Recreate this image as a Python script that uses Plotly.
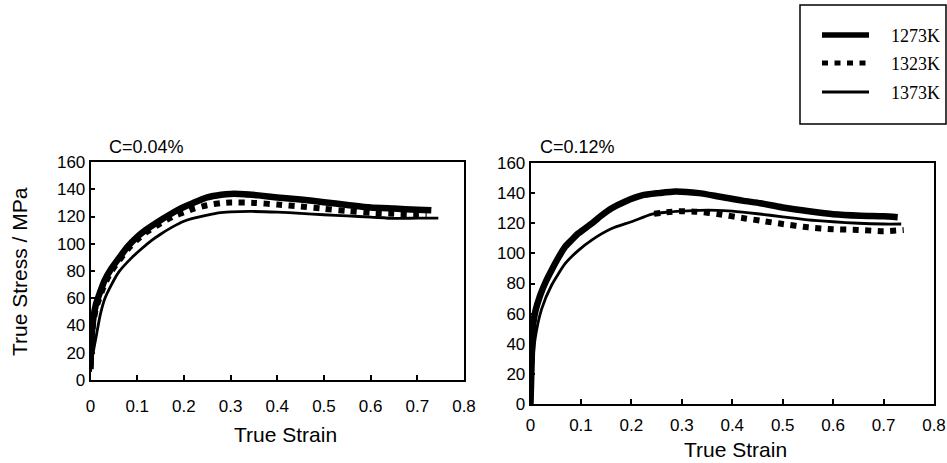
import plotly.graph_objects as go

W, H = 947, 463

# ---- C = 0.04 % ----
strain_a_1273 = [0, 0.002, 0.006, 0.012, 0.02, 0.03, 0.045, 0.06, 0.08, 0.1, 0.12, 0.15, 0.18, 0.2,
                 0.22, 0.25, 0.28, 0.3, 0.33, 0.36, 0.4, 0.45, 0.5, 0.55, 0.6, 0.65, 0.7, 0.73]
stress_a_1273 = [8, 30, 45, 56, 64, 73, 82, 89, 98, 105, 110.5, 117.3, 123.5, 127,
                 130, 134, 136, 136.6, 136.4, 135.5, 134, 132.5, 130.5, 128.5, 126.6, 125.8, 125, 124.5]

strain_a_1323 = [0, 0.002, 0.006, 0.012, 0.02, 0.03, 0.045, 0.06, 0.08, 0.1, 0.12, 0.15, 0.18, 0.2,
                 0.22, 0.25, 0.28, 0.3, 0.35, 0.4, 0.45, 0.5, 0.55, 0.6, 0.65, 0.7, 0.72]
stress_a_1323 = [10, 28, 42, 53, 61, 70, 80, 87, 96, 103, 108.5, 115, 120.5, 123,
                 125.5, 128.3, 129.8, 130.3, 130, 128.8, 127.3, 125.7, 124, 122.7, 122, 121.5, 121.5]

strain_a_1373 = [0, 0.003, 0.01, 0.021, 0.031, 0.045, 0.06, 0.089, 0.11, 0.131, 0.15, 0.174, 0.2,
                 0.217, 0.25, 0.274, 0.3, 0.345, 0.4, 0.45, 0.5, 0.55, 0.6, 0.65, 0.7, 0.745]
stress_a_1373 = [6, 15, 28, 48, 60, 70, 79, 90, 96.5, 102.5, 107, 112, 116.5,
                 118.4, 121, 122.7, 123.4, 123.7, 123.2, 122.3, 121.3, 120.4, 119.6, 118.6, 118.8, 118.8]

# ---- C = 0.12 % ----
strain_b_1273 = [0, 0.002, 0.005, 0.01, 0.019, 0.03, 0.042, 0.055, 0.069, 0.082, 0.095, 0.122, 0.14,
                 0.161, 0.188, 0.221, 0.254, 0.287, 0.334, 0.373, 0.42, 0.456, 0.5, 0.556, 0.6, 0.655,
                 0.7, 0.728]
stress_b_1273 = [0, 25, 52, 62, 72, 81, 89, 97, 104.5, 109, 113.3, 120, 125,
                 130, 134.5, 138.5, 140, 141.1, 140, 137.8, 135, 133.3, 130.5, 127.8, 126, 125,
                 124.6, 124]

strain_b_1323 = [0.245, 0.27, 0.3, 0.33, 0.37, 0.42, 0.46, 0.5, 0.55, 0.6, 0.65, 0.7, 0.74]
stress_b_1323 = [126.3, 127.3, 128, 127.7, 126.2, 123.5, 121.5, 119.5, 117.3, 116, 115.6, 114.7, 115.5]

strain_b_1373 = [0, 0.002, 0.004, 0.009, 0.022, 0.042, 0.069, 0.095, 0.122, 0.161, 0.2, 0.241, 0.27,
                 0.3, 0.334, 0.37, 0.4, 0.45, 0.5, 0.55, 0.6, 0.65, 0.7, 0.735]
stress_b_1373 = [0, 12, 25, 43, 63, 79, 93.3, 102, 109, 116.5, 121, 126, 127.3,
                 128, 128.6, 128.6, 128, 126.3, 124.3, 122.3, 121, 120, 119.5, 119.5]

temps = ["1273K", "1323K", "1373K"]
x_ticks = [0, 0.1, 0.2, 0.3, 0.4, 0.5, 0.6, 0.7, 0.8]
y_ticks = [0, 20, 40, 60, 80, 100, 120, 140, 160]
panel_titles = ["C=0.04%", "C=0.12%"]
x_title = "True Strain"
y_title = "True Stress / MPa"

styles = {
    "1273K": dict(color="black", width=6.5),
    "1323K": dict(color="black", width=6, dash="6px,6.5px"),
    "1373K": dict(color="black", width=2.8),
}
key_widths = {"1273K": 5.5, "1323K": 5, "1373K": 3}


def px(x):
    return x / W


def py(y):
    return 1 - y / H


fig = go.Figure()

panels = [
    ("x", "y", {"1273K": (strain_a_1273, stress_a_1273),
                "1323K": (strain_a_1323, stress_a_1323),
                "1373K": (strain_a_1373, stress_a_1373)}),
    ("x2", "y2", {"1273K": (strain_b_1273, stress_b_1273),
                  "1323K": (strain_b_1323, stress_b_1323),
                  "1373K": (strain_b_1373, stress_b_1373)}),
]

# dotted curve underneath, thick curve on top
for xa, ya, series in panels:
    for t in ["1323K", "1373K", "1273K"]:
        xs, ys = series[t]
        fig.add_trace(go.Scatter(
            x=xs, y=ys, mode="lines", name=t, xaxis=xa, yaxis=ya,
            line=dict(shape="spline", smoothing=0.6, **styles[t]),
            showlegend=False, hoverinfo="skip",
        ))

tick_font = dict(family="Liberation Sans, Arial, sans-serif", size=17, color="black")
axis_common = dict(showgrid=False, zeroline=False, showline=True, mirror=True, automargin=False,
                   linecolor="black", linewidth=1.6, ticks="inside", ticklen=5,
                   tickwidth=1.6, tickcolor="black", tickfont=tick_font)

# boxed key in the upper-right corner: sample strokes + serif labels
key_rows = [35, 63, 92]
shapes = [dict(type="rect", xref="paper", yref="paper",
               x0=px(800), x1=px(946), y0=py(124), y1=py(5),
               line=dict(color="black", width=1.5), fillcolor="rgba(0,0,0,0)", layer="above")]
key_labels = []
for t, yk in zip(temps, key_rows):
    st = styles[t]
    shapes.append(dict(type="line", xref="paper", yref="paper",
                       x0=px(822), x1=px(869), y0=py(yk), y1=py(yk),
                       line=dict(color=st["color"], width=key_widths[t],
                                 dash=st.get("dash", "solid"))))
    key_labels.append(dict(text=t, x=px(889), y=py(yk + 1), xanchor="left", yanchor="middle",
                           font=dict(family="Liberation Serif, Times New Roman, serif", size=18,
                                     color="black")))

fig.update_layout(
    width=W, height=H,
    margin=dict(l=0, r=0, t=0, b=0, autoexpand=False),
    paper_bgcolor="white", plot_bgcolor="white",
    showlegend=False,
    xaxis=dict(domain=[px(90.5), px(464)], range=[0, 0.8], tickvals=x_ticks,
               anchor="y", ticklabelstandoff=10, **axis_common),
    yaxis=dict(domain=[py(380), py(162)], range=[0, 160], tickvals=y_ticks,
               anchor="x", **axis_common),
    xaxis2=dict(domain=[px(530.5), px(934)], range=[0, 0.8], tickvals=x_ticks,
                anchor="y2", ticklabelstandoff=5, **axis_common),
    yaxis2=dict(domain=[py(404), py(163)], range=[0, 160], tickvals=y_ticks,
                anchor="x2", **axis_common),
    shapes=shapes,
)

label_font = dict(family="Liberation Sans, Arial, sans-serif", size=21, color="black")
title_font = dict(family="Liberation Sans, Arial, sans-serif", size=18, color="black")

annotations = [
    dict(text=panel_titles[0], x=px(107), y=py(147), xanchor="left", yanchor="middle", font=title_font),
    dict(text=panel_titles[1], x=px(538), y=py(147), xanchor="left", yanchor="middle", font=title_font),
    dict(text=x_title, x=px(285), y=py(434), xanchor="center", yanchor="middle", font=label_font),
    dict(text=x_title, x=px(735), y=py(449), xanchor="center", yanchor="middle", font=label_font),
    dict(text=y_title, x=px(19), y=py(272), xanchor="center", yanchor="middle", textangle=-90,
         font=label_font),
] + key_labels
for a in annotations:
    a.update(xref="paper", yref="paper", showarrow=False)
fig.update_layout(annotations=annotations)

fig.write_html("out.html")
